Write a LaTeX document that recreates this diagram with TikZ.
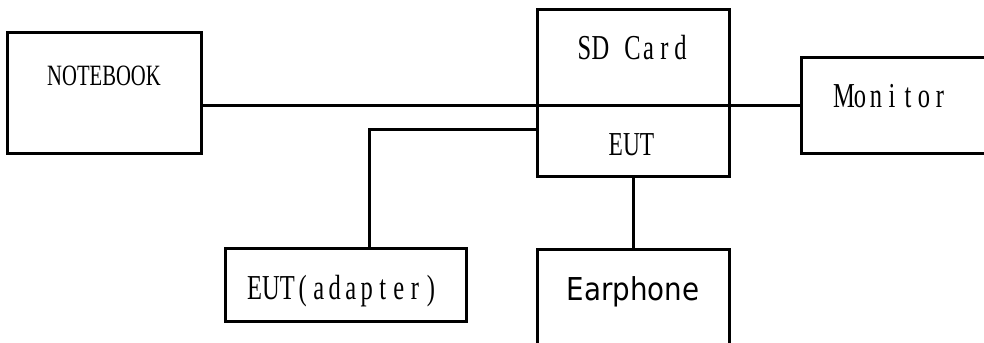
\documentclass[tikz,border=0pt]{standalone}
\usepackage{fontspec}
\setmainfont{Liberation Serif}[FakeStretch=0.7]
\newfontfamily\earfont{DejaVu Sans}[FakeStretch=0.88]
\makeatletter
\newlength\cellw \setlength\cellw{16bp}
\newcommand\spaced[1]{\@tfor\sp@c:=#1\do{\makebox[\cellw][c]{\sp@c}}}
\makeatother
\begin{document}
\begin{tikzpicture}[x=1bp,y=-1bp,
  box/.style={draw, line width=3bp, inner sep=0pt, outer sep=0pt, rectangle},
  lbl/.style={inner sep=0pt, anchor=base},
  conn/.style={line width=3bp}]
\useasboundingbox (0,0) rectangle (984,342);
\clip (0,0) rectangle (984,342);
% boxes
\node[box, minimum width=193bp, minimum height=121bp] (nb) at (104.5,92.5) {};
\node[box, minimum width=192bp, minimum height=167bp] (eut) at (633,92.5) {};
\node[box, minimum width=194bp, minimum height=96bp] (mon) at (898,105) {};
\node[box, minimum width=241bp, minimum height=73bp] (adp) at (345.5,284.5) {};
\node[box, minimum width=192bp, minimum height=111bp] (ear) at (633,304.5) {};
% labels
\node[lbl] (nbt) at (104,85) {\fontsize{29.5bp}{31bp}\selectfont NOTEBOOK};
\node[lbl] (sdt) at (632.5,59) {\fontsize{35bp}{37bp}\selectfont\spaced{SD~Card}};
\node[lbl] (eutt) at (631.5,155) {\fontsize{33.5bp}{35bp}\selectfont EUT};
\node[lbl] (mont) at (892,107) {\fontsize{35bp}{37bp}\selectfont\spaced{Monitor}};
\node[lbl] (adpt) at (343,299) {\fontsize{35bp}{37bp}\selectfont EUT\spaced{(adapter)}};
\node[lbl] (eart) at (633,300) {\earfont\fontsize{31.5bp}{33bp}\selectfont Earphone};
% connectors
\coordinate (div) at (633,105);
\coordinate (j) at (369,129);
\draw[conn] (nb.east |- div) -- (mon.west |- div);
\draw[conn] (eut.west |- j) -| (adp.north -| j);
\draw[conn] (eut.south) -- (ear.north);
\end{tikzpicture}
\end{document}
